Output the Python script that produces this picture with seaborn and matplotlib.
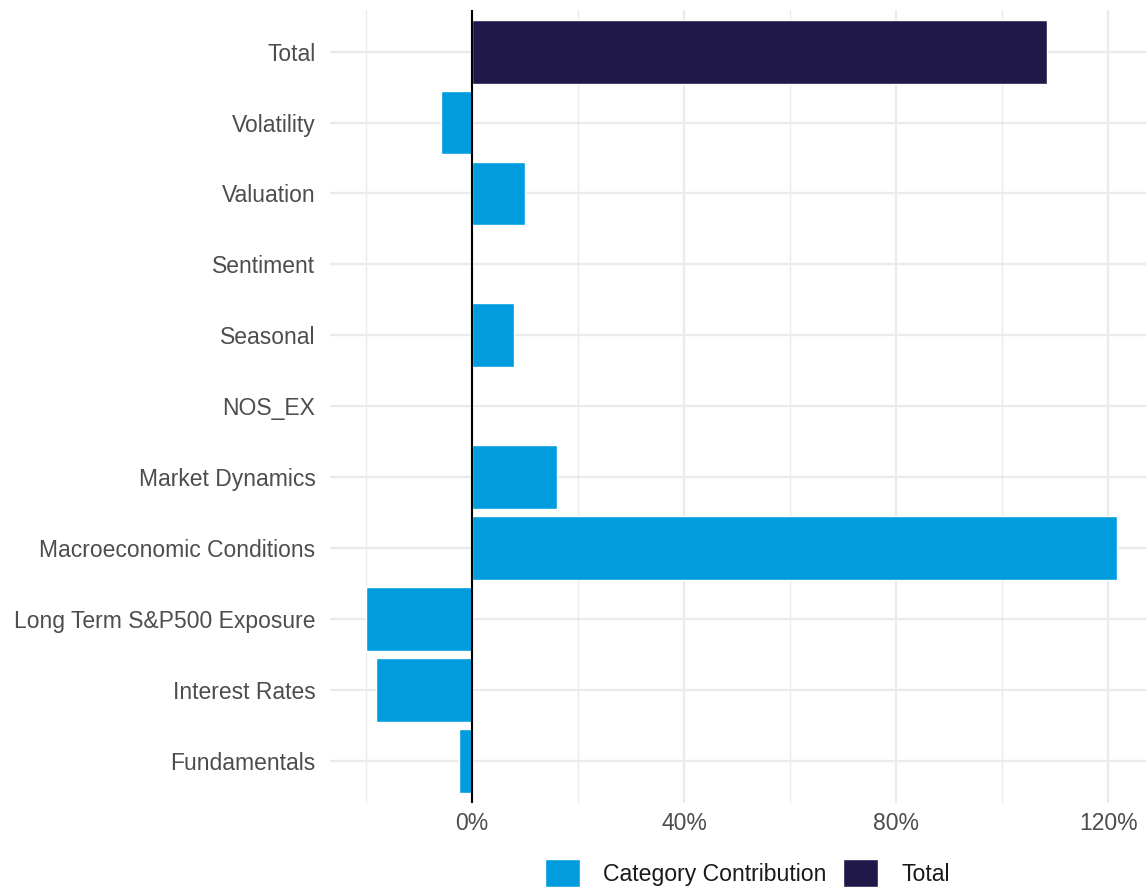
import pandas as pd
import numpy as np
import matplotlib.pyplot as plt
import seaborn as sns
from matplotlib.ticker import FuncFormatter, FixedLocator
from matplotlib.patches import Patch

# Chart data (percent contribution)
categories = ['Total', 'Volatility', 'Valuation', 'Sentiment', 'Seasonal', 'NOS_EX',
              'Market Dynamics', 'Macroeconomic Conditions', 'Long Term S&P500 Exposure',
              'Interest Rates', 'Fundamentals']
values = [108.5, -5.9, 10.0, 0.0, 7.9, 0.0, 16.1, 121.7, -20.0, -18.1, -2.5]
kinds = ['Total'] + ['Category Contribution'] * 10

df = pd.DataFrame({'category': categories, 'value': values, 'kind': kinds})

sns.set_theme(style='white')
plt.rcParams['font.family'] = ['Liberation Sans', 'DejaVu Sans']

colors = {'Category Contribution': '#009CDE', 'Total': '#21184A'}

fig = plt.figure(figsize=(11.46, 8.88), dpi=100)
ax = fig.add_axes([0.288, 0.096, 0.712, 0.893])

sns.barplot(data=df, x='value', y='category', hue='kind', order=categories,
            hue_order=['Category Contribution', 'Total'], palette=colors,
            dodge=False, width=0.9, saturation=1, orient='h', ax=ax, legend=False)

ax.set_xlim(-26.8, 127.1)
ax.set_ylim(len(categories) - 0.5 + 0.09, -0.5 - 0.09)
ax.xaxis.set_major_locator(FixedLocator([0, 40, 80, 120]))
ax.xaxis.set_minor_locator(FixedLocator([-20, 20, 60, 100]))
ax.xaxis.set_major_formatter(FuncFormatter(lambda v, p: f'{v:.0f}%'))
ax.set_axisbelow(True)
ax.grid(which='major', axis='both', color='#EBEBEB', linewidth=1.7)
ax.grid(which='minor', axis='x', color='#EBEBEB', linewidth=1.0)
ax.axvline(0, color='black', linewidth=1.5)

for s in ax.spines.values():
    s.set_visible(False)
ax.tick_params(axis='both', which='both', length=0, labelsize=16.5, labelcolor='#4D4D4D')
ax.tick_params(axis='y', pad=10.5)
ax.tick_params(axis='x', pad=7)
ax.set_xlabel('')
ax.set_ylabel('')

handles = [Patch(facecolor=colors['Category Contribution'], label='Category Contribution'),
           Patch(facecolor=colors['Total'], label='Total')]
fig.legend(handles=handles, loc='lower center', bbox_to_anchor=(0.652, -0.012), ncol=2,
           frameon=False, fontsize=16.6, handlelength=1.52, handleheight=1.52,
           handletextpad=1.0, columnspacing=0.74, borderpad=0.0, labelcolor='#1A1A1A')

fig.savefig('out.png', dpi=100)
